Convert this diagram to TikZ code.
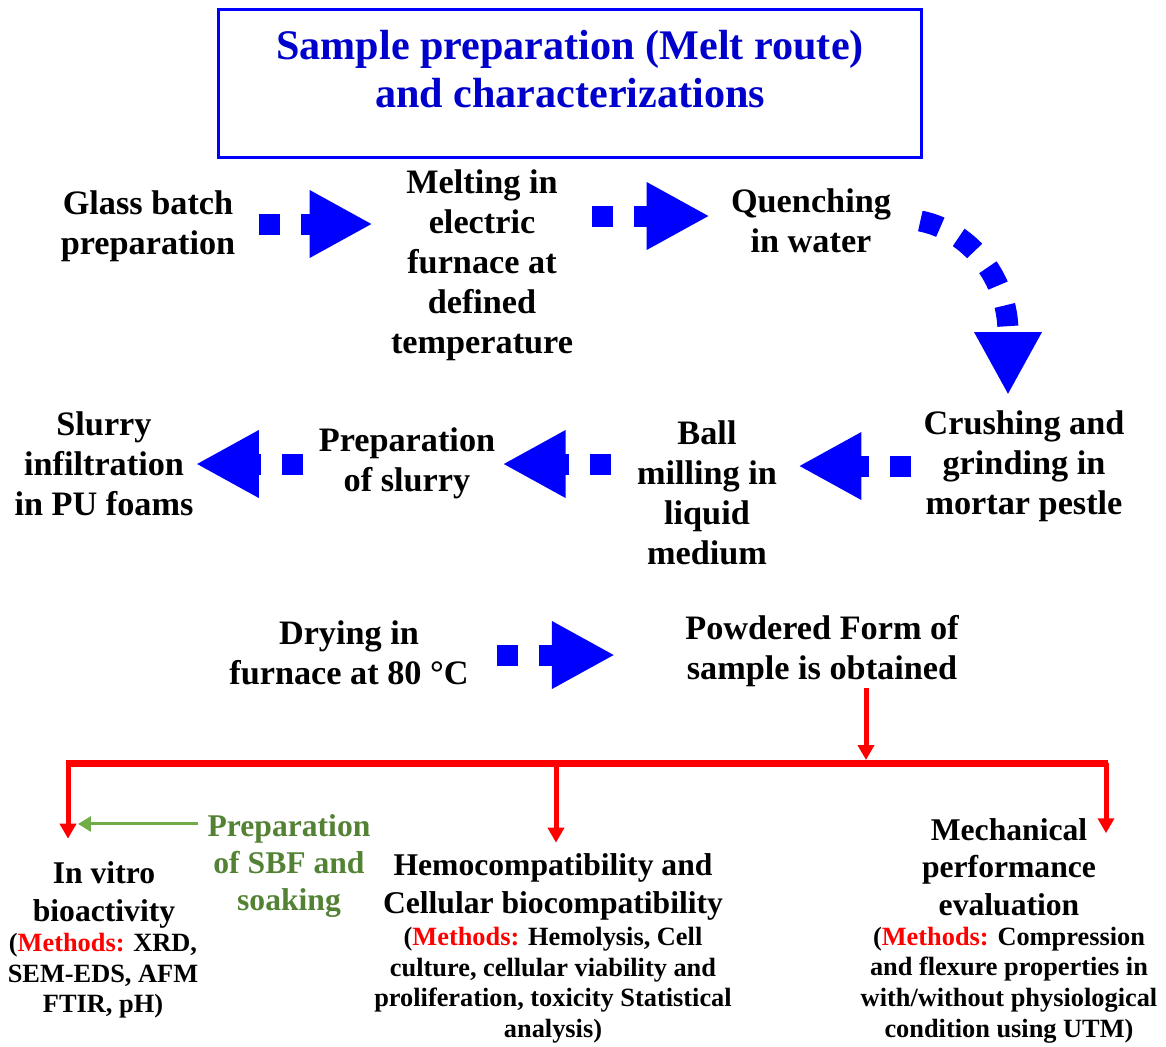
\documentclass[tikz,border=0pt]{standalone}
\usepackage{fontspec}
\setmainfont{Liberation Serif}
\usepackage{xcolor}
\usetikzlibrary{positioning,calc,arrows.meta}

\definecolor{titleblue}{RGB}{0,0,204}
\definecolor{sbfgreen}{RGB}{84,130,53}
\definecolor{arrowgreen}{RGB}{112,173,71}

\begin{document}
\begin{tikzpicture}[
    x=0.02cm, y=-0.02cm,
    steptext/.style={font=\bfseries\fontsize{19.5}{22.8}\selectfont, align=center, inner sep=0pt},
    resulttext/.style={font=\bfseries\fontsize{18}{21.2}\selectfont, align=center, inner sep=0pt},
    methodtext/.style={font=\bfseries\fontsize{15}{17.4}\selectfont, align=center, inner sep=0pt},
    titleframe/.style={draw=blue, line width=0.06cm, minimum width=14.08cm, minimum height=2.98cm, inner sep=0pt},
    titletext/.style={text=titleblue, font=\bfseries\fontsize{24}{27.5}\selectfont, align=center, inner sep=0pt},
    flowarrow/.style={blue, line width=0.42cm, dash pattern=on 0.42cm off 0.42cm, -{Triangle[length=1.26cm,width=1.26cm]}},
    redline/.style={red, line width=0.14cm},
    redarrow/.style={red, line width=0.1cm, -{Triangle[length=0.3cm,width=0.32cm]}},
    greenarrow/.style={arrowgreen, line width=0.06cm, -{Triangle[length=0.26cm,width=0.3cm]}}
]
\useasboundingbox (0,0) rectangle (1166,1046);

% title
\node[titleframe] (frame) at (570,83.5) {};
\node[titletext] (title) at (570,69) {Sample preparation (Melt route)\\and characterizations};

% process steps
\node[steptext] (glass) at (148,226) {Glass batch\\preparation};
\node[steptext] (melt) at (482,265) {Melting in\\electric\\furnace at\\defined\\temperature};
\node[steptext] (quench) at (811,221) {Quenching\\in water};
\node[steptext] (crush) at (1024,466) {Crushing and\\grinding in\\mortar pestle};
\node[steptext] (ball) at (707,493) {Ball\\milling in\\liquid\\medium};
\node[steptext] (slurry) at (407,463) {Preparation\\of slurry};
\node[steptext] (infilt) at (104,464) {Slurry\\infiltration\\in PU foams};
\node[steptext] (drying) at (349,653) {Drying in\\furnace at 80 °C};
\node[steptext] (powder) at (822,651) {Powdered Form of\\sample is obtained};

% characterizations
\node[resulttext] (vitro) at (104,895) {In vitro\\bioactivity};
\node[methodtext] (vitromethods) at (103,976) {(\textcolor{red}{Methods:} XRD,\\SEM-EDS, AFM\\FTIR, pH)};
\node[resulttext] (hemo) at (553,887) {Hemocompatibility and\\Cellular biocompatibility};
\node[methodtext] (hemomethods) at (553,985) {(\textcolor{red}{Methods:} Hemolysis, Cell\\culture, cellular viability and\\proliferation, toxicity Statistical\\analysis)};
\node[resulttext] (mech) at (1009,867) {Mechanical\\performance\\evaluation};
\node[methodtext] (mechmethods) at (1009,985) {(\textcolor{red}{Methods:} Compression\\and flexure properties in\\with/without physiological\\condition using UTM)};
\node[resulttext, text=sbfgreen] (sbf) at (289,866) {Preparation\\of SBF and\\soaking};

% blue flow arrows
\draw[flowarrow] ($(glass.east)+(23,-2)$) -- ($(melt.west |- glass.east)+(-18,-2)$);
\draw[flowarrow] ($(melt.east |- quench.east)+(19,-5)$) -- ($(quench.west)+(-21,-5)$);
\draw[flowarrow] ($(quench.east)+(29,0)$) .. controls (971,231) and (1008,280) .. (1008,332) -- ($(crush.north)+(-16,-15)$);
\draw[flowarrow] ($(crush.west)+(-12,0)$) -- ($(ball.east |- crush.west)+(21,0)$);
\draw[flowarrow] ($(ball.west |- slurry.east)+(-26,1)$) -- ($(slurry.east)+(7,1)$);
\draw[flowarrow] ($(slurry.west)+(-15,1)$) -- ($(infilt.east |- slurry.west)+(2,1)$);
\draw[flowarrow] ($(drying.east)+(28,2)$) -- ($(powder.west |- drying.east)+(-70,2)$);

% red distribution
\coordinate (busL) at (68,763);
\coordinate (busM) at (556,763);
\coordinate (busT) at (866,763);
\coordinate (busR) at (1106,763);
\draw[redarrow] ($(powder.south)+(44,1)$) -- ($(busT)+(0,-3)$);
\draw[redline] ($(busL)+(-2,0)$) -- ($(busR)+(2,0)$);
\draw[redarrow] (busL) -- ($(vitro.north -| busL)+(0,-23)$);
\draw[redarrow] (busM) -- ($(hemo.north -| busM)+(0,-11)$);
\draw[redarrow] (busR) -- ($(mech.north -| busR)+(0,15)$);

% SBF
\draw[greenarrow] ($(sbf.north west)+(-9,10)$) -- ($(sbf.north west -| busL)+(10,10)$);
\end{tikzpicture}
\end{document}
